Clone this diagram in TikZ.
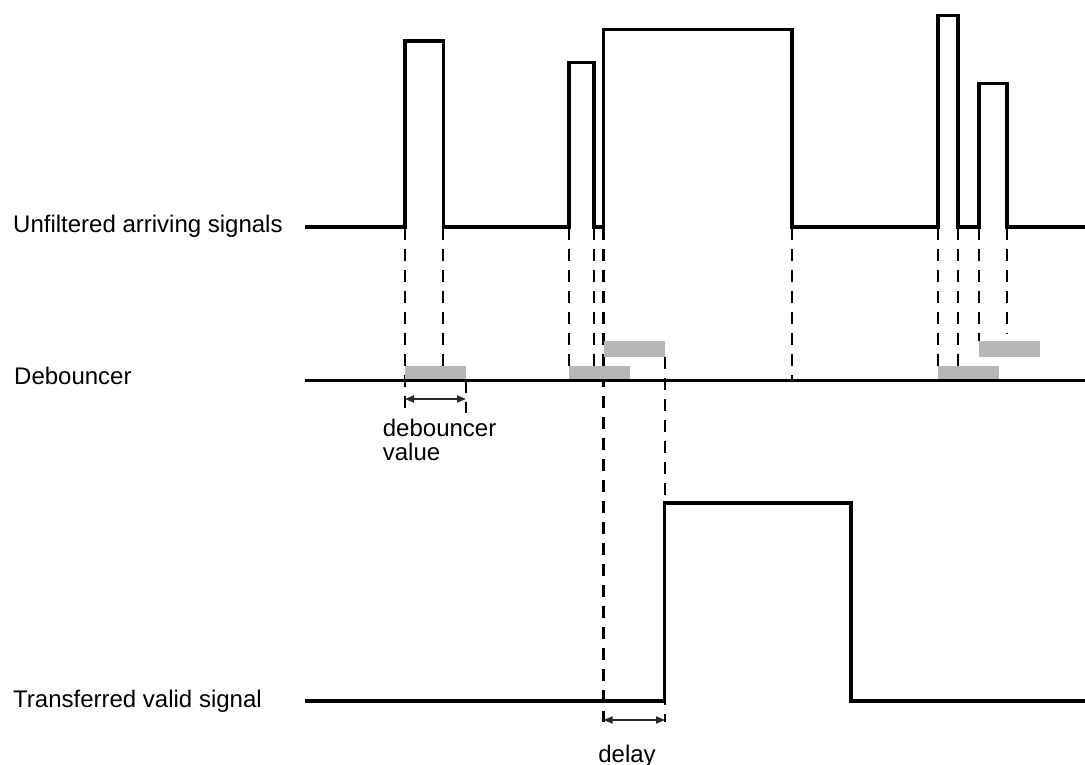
\documentclass[tikz,border=0pt]{standalone}
\usepackage{fontspec}
\setmainfont{Liberation Sans}
\usetikzlibrary{arrows.meta}
\definecolor{barg}{RGB}{182,182,182}
\begin{document}
\begin{tikzpicture}[x=1pt,y=-1pt,
  sig/.style={line width=3.4pt, line join=miter},
  dline/.style={line width=2.4pt, dash pattern=on 12pt off 9pt},
  bar/.style={fill=barg, draw=none},
  lbl/.style={font=\fontsize{24}{23.3}\selectfont, inner sep=0pt, text=black},
  dim/.style={line width=1.7pt, draw={rgb,255:red,40;green,40;blue,40},
    {Triangle[length=9pt,width=7pt]}-{Triangle[length=9pt,width=7pt]}}]
\useasboundingbox (0,0) rectangle (1085,765);

% labels
\node[lbl, anchor=base west] (lu) at (13,233) {Unfiltered arriving signals};
\node[lbl, anchor=base west] (ld) at (14,384.5) {Debouncer};
\node[lbl, anchor=base west] (lt) at (13,707.3) {Transferred valid signal};

% dashed guide lines
\draw[dline] (405,228) -- (405,413);
\draw[dline] (443,228) -- (443,366);
\draw[dline] (466,381) -- (466,413);
\draw[dline] (569,228) -- (569,366);
\draw[dline] (594,228) -- (594,366);
\draw[dline] (603.5,228) -- (603.5,722);
\draw[dline] (665,357) -- (665,722);
\draw[dline] (792,228) -- (792,379);
\draw[dline] (938,228) -- (938,366);
\draw[dline] (958,228) -- (958,366);
\draw[dline] (979,228) -- (979,341);
\draw[dline] (1007,228) -- (1007,334);

% debouncer bars
\fill[bar] (405,365.5) rectangle (466,380);
\fill[bar] (569,365.5) rectangle (630,380);
\fill[bar] (604,340.5) rectangle (665,356.5);
\fill[bar] (938,365.5) rectangle (999,380);
\fill[bar] (979,340.5) rectangle (1040,356.5);

% debouncer base line
\draw[line width=2.6pt] (305,380.5) -- (1085,380.5);

% unfiltered signal
\draw[sig] (305,227) -- (405,227) -- (405,41) -- (443.5,41) -- (443.5,227)
  -- (569,227) -- (569,62.5) -- (594,62.5) -- (594,227) -- (603.5,227)
  -- (603.5,29.5) -- (792,29.5) -- (792,227) -- (938,227) -- (938,15.5)
  -- (958,15.5) -- (958,227) -- (979,227) -- (979,83.5) -- (1007,83.5)
  -- (1007,227) -- (1085,227);

% transferred valid signal
\draw[sig] (305,701) -- (664.5,701) -- (664.5,503) -- (851,503) -- (851,701) -- (1085,701);

% dimension arrows
\coordinate (da1) at (405,399);
\coordinate (da2) at (466,399);
\coordinate (dd1) at (603.5,720);
\coordinate (dd2) at (665,720);
\draw[dim] (da1) -- (da2);
\draw[dim] (dd1) -- (dd2);

\node[lbl, anchor=base west, align=left] (dv) at (382.7,460) {debouncer\\value};
\node[lbl, anchor=base] (dl) at (627,762) {delay};
\end{tikzpicture}
\end{document}
